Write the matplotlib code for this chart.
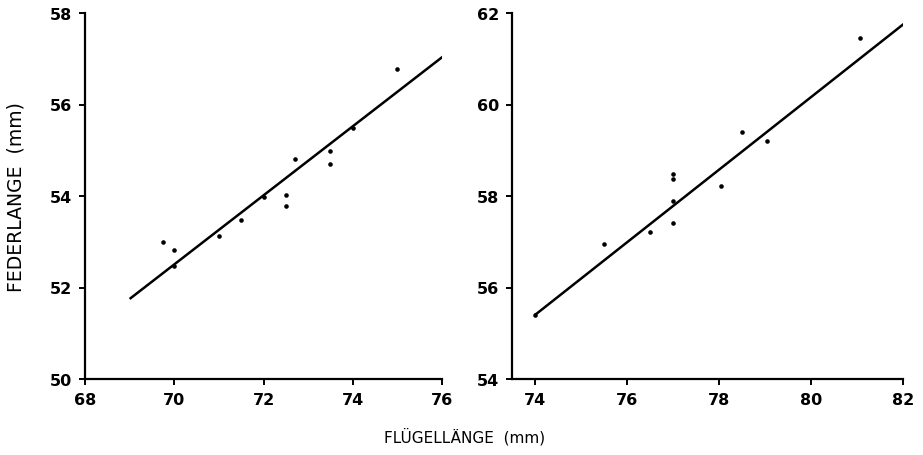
import numpy as np
import matplotlib
matplotlib.use("Agg")
import matplotlib.pyplot as plt

# left panel: wing length vs feather length (mm)
left_x = [69.75, 70.0, 70.0, 71.0, 71.5, 72.0, 72.5, 72.5, 72.7, 73.5, 73.5, 74.0, 75.0]
left_y = [53.0, 52.82, 52.48, 53.12, 53.48, 53.98, 54.02, 53.79, 54.81, 54.99, 54.69, 55.49, 56.78]
left_fit_x = [69.0, 76.05]
left_fit_y = [51.75, 57.07]

# right panel
right_x = [74.0, 75.5, 76.5, 77.0, 77.0, 77.0, 77.0, 78.04, 78.5, 79.05, 81.07]
right_y = [55.4, 56.94, 57.22, 57.42, 57.9, 58.49, 58.38, 58.22, 59.4, 59.2, 61.45]
right_fit_x = [74.0, 82.04]
right_fit_y = [55.4, 61.78]

left_xticks = [68, 70, 72, 74, 76]
left_yticks = [50, 52, 54, 56, 58]
right_xticks = [74, 76, 78, 80, 82]
right_yticks = [54, 56, 58, 60, 62]

fig = plt.figure(figsize=(9.23, 4.56), dpi=100)
ax1 = fig.add_axes([85/923, 76/456, 357/923, 366/456])
ax2 = fig.add_axes([512/923, 76/456, 391/923, 366/456])


def style(ax, xticks, yticks, xlim, ylim):
    ax.set_xlim(*xlim)
    ax.set_ylim(*ylim)
    ax.set_xticks(xticks)
    ax.set_yticks(yticks)
    for s in ["top", "right"]:
        ax.spines[s].set_visible(False)
    for s in ["left", "bottom"]:
        ax.spines[s].set_linewidth(1.6)
    ax.tick_params(direction="out", length=4.5, width=1.4, labelsize=11.5, pad=5)
    for lab in ax.get_xticklabels() + ax.get_yticklabels():
        lab.set_fontweight("bold")


ax1.plot(left_fit_x, left_fit_y, color="black", lw=1.8, solid_capstyle="butt")
ax1.plot(left_x, left_y, "o", color="black", markersize=3.3, markeredgewidth=0)
style(ax1, left_xticks, left_yticks, (68, 76), (50, 58))

ax2.plot(right_fit_x, right_fit_y, color="black", lw=1.8, solid_capstyle="butt")
ax2.plot(right_x, right_y, "o", color="black", markersize=3.3, markeredgewidth=0)
style(ax2, right_xticks, right_yticks, (73.5, 82), (54, 62))

fig.text(16/923, 1 - 197/456, "FEDERLANGE  (mm)", rotation=90, ha="center", va="center",
         fontsize=13.5)
fig.text(465/923, 1 - 437/456, "FLÜGELLÄNGE  (mm)", ha="center", va="center", fontsize=11)

fig.savefig("out.png", dpi=100, facecolor="white")
